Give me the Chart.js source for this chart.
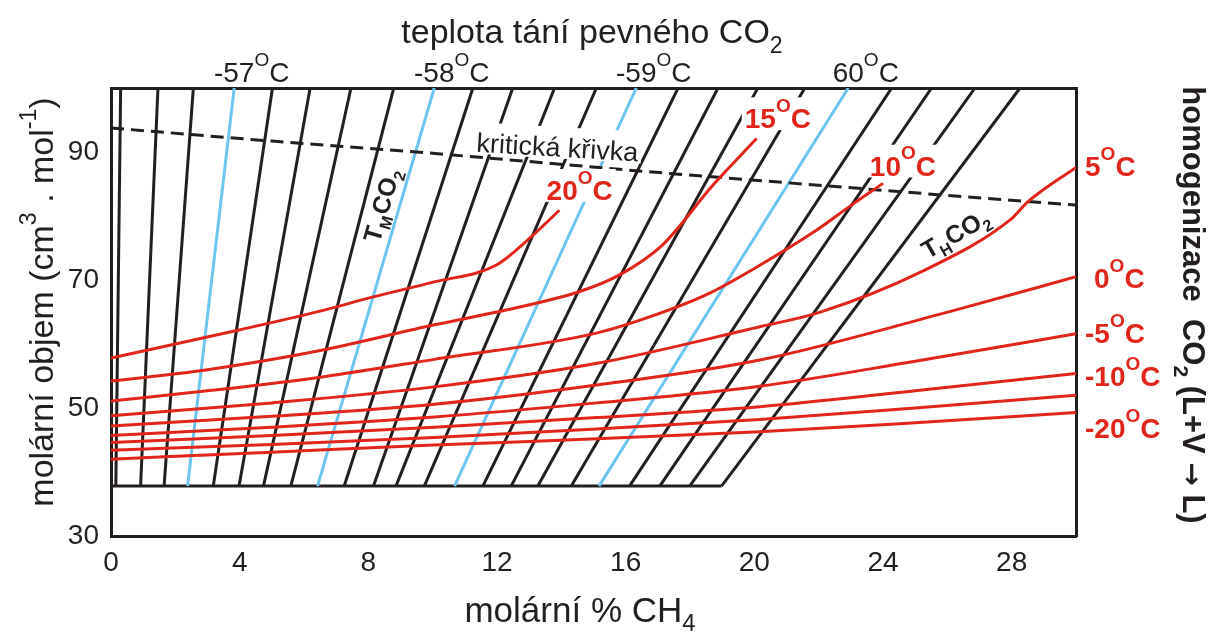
<!DOCTYPE html>
<html>
<head>
<meta charset="utf-8">
<script src="https://cdn.jsdelivr.net/npm/chart.js@4.4.1/dist/chart.umd.min.js"></script>
<style>
  html, body { margin: 0; padding: 0; background: #fff; }
  #wrap { width: 1209px; height: 631px; position: relative; }
</style>
</head>
<body>
<div id="wrap"><canvas id="chart"></canvas></div>
<script>
// ======================
// Data
// ======================
const xTicks = [0, 4, 8, 12, 16, 20, 24, 28];
const yTicks = [30, 50, 70, 90];

// T_M CO2 lines: x at the base (V = 37.8) and at the top (V = 100)
const tmBase = 37.8;
const tmTop = 100;
const tmBottomX = [0.15, 0.92, 1.65, 2.38, 3.18, 3.98, 4.74, 5.59, 6.42, 7.25, 8.16, 8.86,
                   9.74, 10.68, 11.56, 12.44, 13.27, 14.31, 15.17, 16.12, 17.06, 17.99, 18.98];
const tmTopX = [0.30, 1.46, 2.56, 3.83, 5.02, 6.19, 7.46, 8.79, 10.05, 11.25, 12.49, 13.79,
                15.09, 16.33, 17.63, 18.87, 20.11, 21.57, 22.92, 24.27, 25.51, 26.86, 28.26];
const tmBlue = [3, 8, 13, 18];               // lines labelled at the top
const tmBlueLabels = ["-57", "-58", "-59", "60"];

// critical curve
const kritX = [0, 5, 10, 16.5, 20, 25.8, 30];
const kritY = [93.75, 91.7, 89.8, 87.0, 85.6, 83.3, 81.7];

// homogenisation isotherms [x, V]
const iso20 = [[0, 57.8], [3.98, 62.2], [6.63, 65.3], [8.03, 67.2], [10.05, 69.7], [11.97, 72.3], [13.01, 76.5], [13.94, 80.9]];
const iso15 = [[0, 54.2], [2.89, 55.9], [6.63, 59.1], [10.05, 63.0], [12.28, 65.3], [14.57, 68.2], [15.81, 70.8], [17.15, 75.5], [18.71, 84.8], [20.07, 92.1]];
const iso10 = [[0, 51.1], [3.21, 52.8], [6.63, 54.9], [10.05, 57.6], [15.09, 61.7], [16.9, 64.5], [18.51, 67.7], [20.17, 72.3], [21.88, 77.6], [23.02, 81.7], [24.0, 85.1]];
const iso5 = [[0, 48.8], [5, 50.8], [10.05, 53.3], [15.03, 56.9], [20.17, 62.7], [22.0, 64.9], [25.2, 71.3], [28.0, 79.6], [28.5, 82.2], [30, 87.6]];
const iso0 = [[0, 47.2], [5, 48.7], [10.05, 50.6], [15.1, 53.6], [20.17, 57.5], [26.24, 65.3], [30, 70.5]];
const isoM5 = [[0, 45.7], [5, 47.0], [10.05, 48.6], [15.1, 50.8], [20.17, 53.4], [25, 57.3], [30, 61.6]];
const isoM10 = [[0, 44.6], [5, 45.7], [10.05, 47.0], [15.1, 48.5], [20.17, 50.2], [25, 52.7], [30, 55.4]];
const isoM15 = [[0, 43.4], [5, 44.3], [10.05, 45.4], [15.1, 46.7], [20.17, 48.2], [25, 50.0], [30, 52.0]];
const isoM20 = [[0, 42.0], [5, 43.1], [10.05, 44.2], [15.1, 45.2], [20.17, 46.3], [25, 47.7], [30, 49.3]];
const isoSeries = [iso20, iso15, iso10, iso5, iso0, isoM5, isoM10, isoM15, isoM20];

// ======================
// Styles
// ======================
const BLACK = "#231f20";
const BLUE = "#6cc5ef";
const RED = "#e1251b";
const FONT = "'Liberation Sans', Arial, Helvetica, sans-serif";
const ARROW_FONT = "'DejaVu Sans', sans-serif";

function fontOf(size, bold, family) {
  return (bold ? "bold " : "") + size + "px " + (family || FONT);
}

// parts: [text, scale, baselineShift(em), family]
function richWidth(ctx, parts, size, bold) {
  let w = 0;
  parts.forEach(p => {
    ctx.font = fontOf(size * (p[1] || 1), bold, p[3]);
    w += ctx.measureText(p[0]).width;
  });
  return w;
}

function drawRich(ctx, parts, x, y, size, bold, color) {
  ctx.fillStyle = color;
  ctx.textAlign = "left";
  ctx.textBaseline = "alphabetic";
  parts.forEach(p => {
    ctx.font = fontOf(size * (p[1] || 1), bold, p[3]);
    ctx.fillText(p[0], x, y + (p[2] || 0) * size);
    x += ctx.measureText(p[0]).width;
  });
}

function deg(num) {
  return [[num], ["O", 0.68, -0.58], ["C"]];
}

// centered text, optional rotation and white box behind
function drawCentered(ctx, parts, cx, cy, size, bold, color, angle, box) {
  const w = richWidth(ctx, parts, size, bold);
  ctx.save();
  ctx.translate(cx, cy);
  ctx.rotate(angle || 0);
  if (box) {
    ctx.fillStyle = "#fff";
    ctx.fillRect(-w / 2 - 3, -size * 0.74, w + 6, size * 1.17);
  }
  drawRich(ctx, parts, -w / 2, size * 0.36, size, bold, color);
  ctx.restore();
}

// ======================
// Datasets
// ======================
function pts(arr) {
  return arr.map(p => ({ x: p[0], y: p[1] }));
}

const datasets = [];

isoSeries.forEach(s => {
  datasets.push({
    data: pts(s), borderColor: RED, borderWidth: 3,
    cubicInterpolationMode: "monotone", order: 0
  });
});

datasets.push({
  data: kritX.map((v, i) => ({ x: v, y: kritY[i] })),
  borderColor: BLACK, borderWidth: 3, borderDash: [13, 7], order: 1
});

tmBottomX.forEach((b, i) => {
  const blue = tmBlue.includes(i);
  datasets.push({
    data: [{ x: b, y: tmBase }, { x: tmTopX[i], y: tmTop }],
    borderColor: blue ? BLUE : BLACK, borderWidth: 3, order: blue ? 2 : 3
  });
});

datasets.push({
  data: [{ x: 0, y: tmBase }, { x: tmBottomX[tmBottomX.length - 1], y: tmBase }],
  borderColor: BLACK, borderWidth: 3, order: 3
});

// ======================
// Texts
// ======================
const textPlugin = {
  id: "texts",
  afterDraw(chart) {
    const { ctx, chartArea: a, scales: { x, y } } = chart;
    ctx.save();

    // labels on the T_M lines at the top
    tmBlue.forEach((idx, k) => {
      const px = x.getPixelForValue(tmTopX[idx]);
      ctx.font = fontOf(28, false);
      const wn = ctx.measureText(tmBlueLabels[k]).width;
      drawRich(ctx, deg(tmBlueLabels[k]), px - wn / 2, a.top - 6, 28, false, BLACK);
    });

    // axis titles
    drawCentered(ctx, [["teplota tání pevného CO"], ["2", 0.68, 0.28]], 592, 31, 34, false, BLACK);
    drawCentered(ctx, [["molární % CH"], ["4", 0.68, 0.28]], 580, 609, 35, false, BLACK);
    drawCentered(ctx, [["molární objem (cm"], ["3", 0.68, -0.5], [" . mol"], ["-1", 0.68, -0.5], [")"]],
      41, 302, 34, false, BLACK, -Math.PI / 2);
    drawCentered(ctx, [["homogenizace  CO"], ["2", 0.68, 0.28], [" (L+V "], ["\u2192", 0.9, 0, ARROW_FONT], [" L)"]],
      1194, 305, 31, true, BLACK, Math.PI / 2);

    // isotherm labels inside the plot
    drawCentered(ctx, deg("20"), x.getPixelForValue(14.57), y.getPixelForValue(84.1), 28, true, RED, 0, true);
    drawCentered(ctx, deg("15"), x.getPixelForValue(20.73), y.getPixelForValue(95.3), 28, true, RED, 0, true);
    drawCentered(ctx, deg("10"), x.getPixelForValue(24.62), y.getPixelForValue(87.9), 28, true, RED, 0, true);

    // isotherm labels on the right
    const right = [["5", 30.28, 87.8], ["0", 30.56, 70.3], ["-5", 30.28, 61.7], ["-10", 30.28, 55.0], ["-20", 30.28, 46.9]];
    right.forEach(r => {
      drawRich(ctx, deg(r[0]), x.getPixelForValue(r[1]), y.getPixelForValue(r[2]) + 10, 28, true, RED);
    });

    // curve names
    drawCentered(ctx, [["kritická křivka"]], x.getPixelForValue(13.88), y.getPixelForValue(90.8), 27, false, BLACK, 0.06, true);
    drawCentered(ctx, [["T"], ["M", 0.65, 0.25], ["CO"], ["2", 0.65, 0.25]],
      x.getPixelForValue(8.4), y.getPixelForValue(81.7), 25, true, BLACK, -74 * Math.PI / 180);
    drawCentered(ctx, [["T"], ["H", 0.65, 0.25], ["CO"], ["2", 0.65, 0.25]],
      x.getPixelForValue(26.24), y.getPixelForValue(77.3), 25, true, BLACK, -30 * Math.PI / 180);

    ctx.restore();
  }
};

// ======================
// Chart
// ======================
const border = { display: true, width: 3, color: BLACK };
const noGrid = { display: false, drawTicks: false };

new Chart(document.getElementById("chart"), {
  type: "line",
  data: { datasets: datasets },
  options: {
    responsive: true,
    maintainAspectRatio: false,
    animation: false,
    layout: { padding: 0 },
    elements: { point: { radius: 0 }, line: { tension: 0, fill: false } },
    plugins: { legend: { display: false }, tooltip: { enabled: false } },
    scales: {
      x: {
        type: "linear", position: "bottom", min: 0, max: 30,
        afterBuildTicks: s => { s.ticks = xTicks.map(v => ({ value: v })); },
        afterFit: s => { s.height = 95; },
        ticks: { color: BLACK, font: { size: 28, family: FONT }, padding: 10, maxRotation: 0, autoSkip: false, callback: v => String(v) },
        grid: noGrid, border: border
      },
      y: {
        type: "linear", position: "left", min: 30, max: 100,
        afterBuildTicks: s => { s.ticks = yTicks.map(v => ({ value: v })); },
        afterFit: s => { s.width = 111; },
        ticks: { color: BLACK, font: { size: 28, family: FONT }, padding: 12, autoSkip: false, callback: v => String(v) },
        grid: noGrid, border: border
      },
      x2: {
        type: "linear", position: "top", min: 0, max: 30,
        afterFit: s => { s.height = 88; },
        ticks: { display: false }, grid: noGrid, border: border
      },
      y2: {
        type: "linear", position: "right", min: 30, max: 100,
        afterFit: s => { s.width = 133; },
        ticks: { display: false }, grid: noGrid, border: border
      }
    }
  },
  plugins: [textPlugin]
});
</script>
</body>
</html>
